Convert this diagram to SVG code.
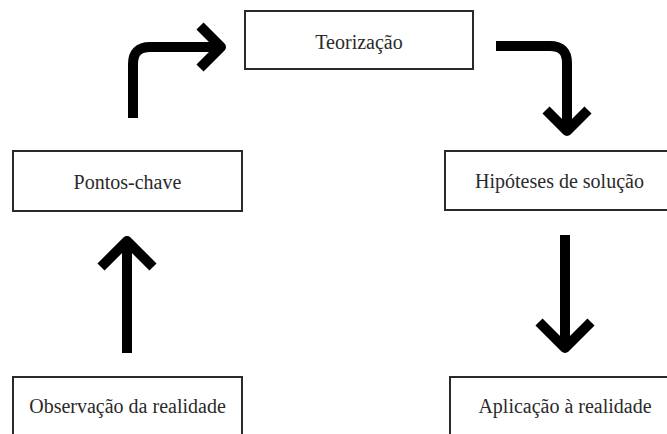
<svg xmlns="http://www.w3.org/2000/svg" width="667" height="434" viewBox="0 0 667 434">
<style>
.box{fill:#fff;stroke:#2a2a2a;stroke-width:2}
.lbl{font-family:"Liberation Serif","Times New Roman",serif;font-size:20px;fill:#2a2a2a;text-anchor:middle}
.arr{fill:none;stroke:#000;stroke-width:10;stroke-linejoin:round}
</style>
<rect width="667" height="434" fill="#fff"/>
<g id="connectors">
<path class="arr" d="M133 118 V64 Q133 47 150 47 H221"/>
<path class="arr" d="M200 26 L221 47 L200 68"/>
<path class="arr" d="M496 46 H550 Q567 46 567 63 V131"/>
<path class="arr" d="M546 110 L567 131 L588 110"/>
<path class="arr" d="M127 353 V241"/>
<path class="arr" d="M101 267 L127 241 L153 267"/>
<path class="arr" d="M565 235 V348"/>
<path class="arr" d="M539 322 L565 348 L591 322"/>
</g>
<g id="teorizacao">
<rect class="box" x="245" y="11" width="228" height="58"/>
<text class="lbl" x="359" y="49">Teorização</text>
</g>
<g id="pontos-chave">
<rect class="box" x="13" y="151" width="229" height="60"/>
<text class="lbl" x="127.5" y="189">Pontos-chave</text>
</g>
<g id="hipoteses">
<rect class="box" x="445" y="151" width="229" height="59"/>
<text class="lbl" x="559.5" y="188">Hipóteses de solução</text>
</g>
<g id="observacao">
<rect class="box" x="13" y="377" width="229" height="60"/>
<text class="lbl" x="127.5" y="413">Observação da realidade</text>
</g>
<g id="aplicacao">
<rect class="box" x="450" y="377" width="230" height="60"/>
<text class="lbl" x="565" y="413">Aplicação à realidade</text>
</g>
</svg>
